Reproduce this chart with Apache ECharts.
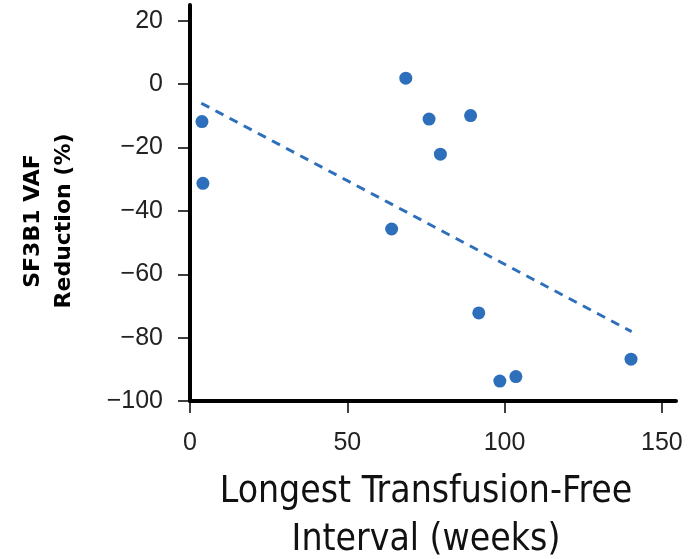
<!DOCTYPE html>
<html>
<head>
<meta charset="utf-8">
<script src="https://cdn.jsdelivr.net/npm/echarts@6/dist/echarts.min.js"></script>
<style>
  html, body { margin: 0; padding: 0; background: #fff; }
  #chart { width: 689px; height: 559px; }
</style>
</head>
<body>
<div id="chart"></div>
<script>
// transfusion-free interval (weeks) vs VAF reduction (%)
const weeks = [3.8, 4.1, 64.1, 68.6, 76.0, 79.6, 89.2, 91.8, 98.5, 103.6, 140.2]
const reduction = [-11.8, -31.3, -45.7, 1.9, -11.0, -22.1, -9.9, -72.2, -93.7, -92.3, -86.8]
// fitted trend line end points
const trendX = [3.6, 140.4]
const trendY = [-6.0, -78.1]
const xTicks = [0, 50, 100, 150]
const yTicks = [-100, -80, -60, -40, -20, 0, 20]

const chart = echarts.init(document.getElementById('chart'))
const blue = '#2d6fbb'

const option = {
  animation: false,
  grid: {
    left: 190,
    right: 13,
    top: 5,
    bottom: 158,
    outerBoundsMode: 'none',
  },
  xAxis: {
    type: 'value',
    min: 0,
    max: 154.5,
    name: 'Longest Transfusion-Free\nInterval (weeks)',
    nameLocation: 'middle',
    nameGap: 67,
    nameTextStyle: {
      fontFamily: "'Liberation Sans Narrow', 'DejaVu Sans Condensed', sans-serif",
      fontSize: 37,
      lineHeight: 48,
      color: '#111',
      padding: [0, 14, 0, 0],
    },
    axisLine: { onZero: false, lineStyle: { color: '#000', width: 4 } },
    axisTick: {
      length: 12,
      lineStyle: { color: '#000', width: 1.5 },
      customValues: xTicks,
    },
    axisLabel: {
      customValues: xTicks,
      margin: 30,
      fontFamily: "'Liberation Sans', Arial, sans-serif",
      fontSize: 25,
      color: '#222',
    },
    splitLine: { show: false },
  },
  yAxis: {
    type: 'value',
    min: -100,
    max: 25,
    name: 'SF3B1 VAF\nReduction (%)',
    nameLocation: 'middle',
    nameGap: 110,
    nameTextStyle: {
      fontFamily: "'DejaVu Sans', sans-serif",
      fontWeight: 'bold',
      fontSize: 22,
      lineHeight: 31,
      color: '#000',
      padding: [0, 36, 0, 0],
    },
    axisLine: { show: true, onZero: false, lineStyle: { color: '#000', width: 4 } },
    axisTick: {
      show: true,
      length: 12,
      lineStyle: { color: '#000', width: 1.5 },
      customValues: yTicks,
    },
    axisLabel: {
      customValues: yTicks,
      margin: 27,
      fontFamily: "'Liberation Sans', Arial, sans-serif",
      fontSize: 25,
      color: '#222',
      formatter: function (v) {
        return v < 0 ? '\u2212' + Math.abs(v) : String(v)
      },
    },
    splitLine: { show: false },
  },
  series: [
    {
      type: 'line',
      data: trendX.map((x, i) => [x, trendY[i]]),
      symbol: 'none',
      lineStyle: { color: blue, width: 3, type: [9, 7] },
      z: 1,
    },
    {
      type: 'scatter',
      data: weeks.map((x, i) => [x, reduction[i]]),
      symbolSize: 13,
      itemStyle: { color: blue, opacity: 1 },
      z: 2,
    },
  ],
}
chart.setOption(option)
</script>
</body>
</html>
